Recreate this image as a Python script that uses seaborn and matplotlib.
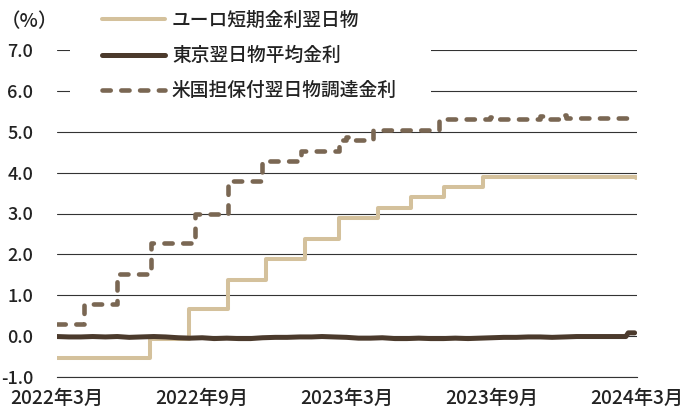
import matplotlib
matplotlib.use("Agg")
import matplotlib.dates as mdates
import matplotlib.pyplot as plt
import pandas as pd
import seaborn as sns
from matplotlib.patches import Rectangle

# ユーロ短期金利翌日物 (step changes)
euro_dates = ["2022-04-01", "2022-07-27", "2022-09-14", "2022-11-02",
              "2022-12-21", "2023-02-08", "2023-03-22", "2023-05-10",
              "2023-06-21", "2023-08-02", "2023-09-20", "2024-03-31"]
euro_rates = [-0.54, -0.07, 0.66, 1.38, 1.89, 2.38, 2.90, 3.14,
              3.40, 3.64, 3.89, 3.88]

# 東京翌日物平均金利 (semi-monthly readings)
tokyo_dates = ["2022-04-01", "2022-04-16", "2022-05-01", "2022-05-16",
               "2022-06-01", "2022-06-16", "2022-07-01", "2022-07-16",
               "2022-08-01", "2022-08-16", "2022-09-01", "2022-09-16",
               "2022-10-01", "2022-10-16", "2022-11-01", "2022-11-16",
               "2022-12-01", "2022-12-16", "2023-01-01", "2023-01-16",
               "2023-02-01", "2023-02-16", "2023-03-01", "2023-03-16",
               "2023-04-01", "2023-04-16", "2023-05-01", "2023-05-16",
               "2023-06-01", "2023-06-16", "2023-07-01", "2023-07-16",
               "2023-08-01", "2023-08-16", "2023-09-01", "2023-09-16",
               "2023-10-01", "2023-10-16", "2023-11-01", "2023-11-16",
               "2023-12-01", "2023-12-16", "2024-01-01", "2024-01-16",
               "2024-02-01", "2024-02-16", "2024-03-01", "2024-03-18",
               "2024-03-21", "2024-03-29"]
tokyo_rates = [-0.01, -0.02, -0.02, -0.01, -0.02, -0.01, -0.03, -0.02,
               -0.01, -0.02, -0.04, -0.05, -0.04, -0.06, -0.05, -0.06,
               -0.06, -0.04, -0.03, -0.03, -0.02, -0.02, -0.01, -0.02,
               -0.03, -0.05, -0.05, -0.04, -0.06, -0.06, -0.05, -0.06,
               -0.06, -0.05, -0.06, -0.05, -0.04, -0.03, -0.03, -0.02,
               -0.02, -0.03, -0.02, -0.01, -0.01, -0.01, -0.01, -0.01,
               0.08, 0.08]

# 米国担保付翌日物調達金利 (step changes)
us_dates = ["2022-04-01", "2022-05-05", "2022-06-16", "2022-07-28",
            "2022-09-22", "2022-11-03", "2022-12-15", "2023-02-02",
            "2023-03-23", "2023-03-31", "2023-04-03", "2023-05-04",
            "2023-07-27", "2023-09-29", "2023-10-02", "2023-12-01",
            "2023-12-04", "2023-12-29", "2024-01-02", "2024-03-31"]
us_rates = [0.29, 0.79, 1.52, 2.27, 2.98, 3.79, 4.28, 4.52,
            4.80, 4.86, 4.81, 5.05, 5.30, 5.35, 5.31, 5.39,
            5.32, 5.40, 5.33, 5.32]

tick_dates = ["2022-04-01", "2022-10-01", "2023-04-01", "2023-10-01", "2024-04-01"]
tick_labels = ["2022年3月", "2022年9月", "2023年3月", "2023年9月", "2024年3月"]
y_ticks = [-1.0, 0.0, 1.0, 2.0, 3.0, 4.0, 5.0, 6.0, 7.0]

series_names = ["ユーロ短期金利翌日物", "東京翌日物平均金利", "米国担保付翌日物調達金利"]
colors = ["#D4C19C", "#4B3A2C", "#7A6753"]

sns.set_style("white")
plt.rcParams["font.family"] = ["Noto Sans CJK JP", "DejaVu Sans"]
plt.rcParams["font.weight"] = "medium"
text_color = "#222222"

euro = pd.DataFrame({"date": pd.to_datetime(euro_dates), "rate": euro_rates})
tokyo = pd.DataFrame({"date": pd.to_datetime(tokyo_dates), "rate": tokyo_rates})
us = pd.DataFrame({"date": pd.to_datetime(us_dates), "rate": us_rates})

fig = plt.figure(figsize=(6.91, 4.09), dpi=100)
ax = fig.add_axes([57 / 691, 1 - 377 / 409, 580 / 691, 327 / 409])

sns.lineplot(data=euro, x="date", y="rate", ax=ax, color=colors[0],
             linewidth=2.9, drawstyle="steps-post", errorbar=None,
             label=series_names[0], zorder=3)
sns.lineplot(data=tokyo, x="date", y="rate", ax=ax, color=colors[1],
             linewidth=3.6, errorbar=None, label=series_names[1], zorder=4)
sns.lineplot(data=us, x="date", y="rate", ax=ax, color=colors[2],
             linewidth=3.3, drawstyle="steps-post", errorbar=None,
             label=series_names[2], zorder=5)
for line in ax.lines:
    line.set_solid_capstyle("round")
us_line = ax.lines[2]
us_line.set_dashes((1.8, 2.3))
us_line.set_dash_capstyle("round")

ax.set_xlim(pd.Timestamp(tick_dates[0]), pd.Timestamp(tick_dates[-1]))
ax.set_ylim(-1.0, 7.0)
ax.set_xticks(mdates.date2num(pd.to_datetime(tick_dates)))
ax.set_xticklabels(tick_labels)
ax.set_yticks(y_ticks)
ax.set_yticklabels([f"{v:.1f}" for v in y_ticks])
ax.set_xlabel("")
ax.set_ylabel("")

ax.grid(axis="y", color="#333333", linewidth=0.8)
ax.grid(axis="x", visible=False)
for side in ["left", "right", "top"]:
    ax.spines[side].set_visible(False)
ax.spines["bottom"].set_color("#333333")
ax.spines["bottom"].set_linewidth(0.8)
ax.tick_params(axis="x", direction="in", length=4.3, width=0.8,
               color="#333333", pad=8, labelsize=13.8, labelcolor=text_color)
ax.tick_params(axis="y", length=0, pad=17, labelsize=13, labelcolor=text_color)

# white block behind the legend hides the gridlines there
fig.add_artist(Rectangle((70 / 691, 1 - 110 / 409), 361 / 691, 110 / 409,
                         transform=fig.transFigure, facecolor="white",
                         edgecolor="none", zorder=1.5))

handles, labels = ax.get_legend_handles_labels()
ax.get_legend().remove()
leg = fig.legend(handles, labels, loc="upper left",
                 bbox_to_anchor=(102 / 691, 1 - 11 / 409), frameon=False,
                 fontsize=13.5, handlelength=3.36, handletextpad=0.37,
                 labelspacing=0.86, borderpad=0, borderaxespad=0)
leg.set_zorder(6)
for t in leg.get_texts():
    t.set_color(text_color)

fig.text(1 / 691, 1 - 22 / 409, "（%）", fontsize=14, color=text_color,
         ha="left", va="center")

fig.savefig("out.png", dpi=100)
